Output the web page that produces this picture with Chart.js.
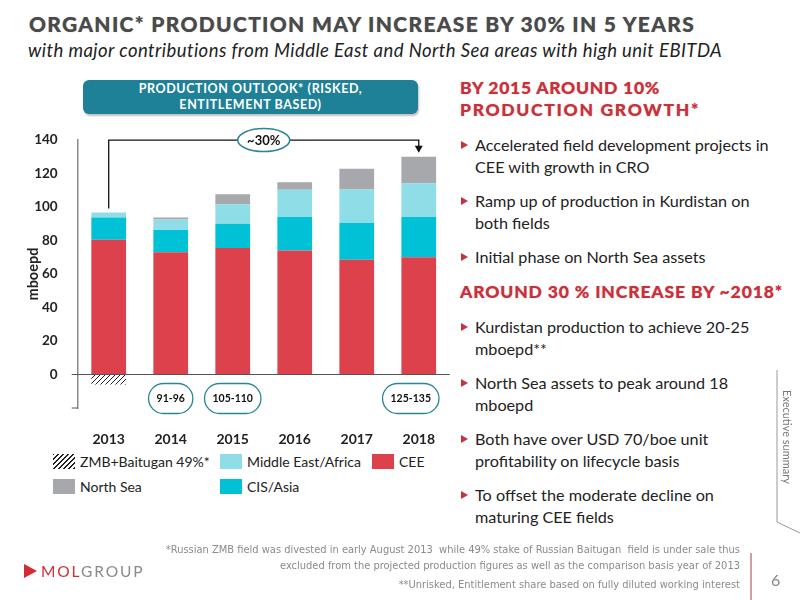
<!DOCTYPE html>
<html>
<head>
<meta charset="utf-8">
<script src="https://cdn.jsdelivr.net/npm/chart.js@4.4.0/dist/chart.umd.min.js"></script>
<style>
body { margin: 0; width: 800px; height: 600px; position: relative; overflow: hidden; background: #fff; font-family: Lato, sans-serif; color: #222; }
.abs { position: absolute; white-space: nowrap; }
#title { left: 29px; top: 11px; font-size: 21px; font-weight: 900; color: #4a4a4a; text-shadow: 0 0 1px #999; }
#subtitle { left: 28px; top: 39px; font-size: 18.5px; font-style: italic; color: #222; }
#box { left: 83px; top: 80px; width: 335px; height: 33px; background: #1f8197; border-radius: 6px; box-shadow: 1px 2px 2px rgba(0,0,0,0.25); color: #fff; font-size: 12.5px; font-weight: 700; letter-spacing: 0.6px; text-align: center; line-height: 15.5px; padding-top: 1px; }
#chartWrap { position: absolute; left: 20px; top: 120px; width: 430px; height: 330px; }
.legItem { position: absolute; font-size: 14px; line-height: 16px; color: #222; }
.legBox { position: absolute; width: 22px; height: 15px; }
.head { position: absolute; left: 460px; font-size: 17.5px; font-weight: 900; color: #c8313b; line-height: 21.5px; white-space: nowrap; text-shadow: 0 0 1px #e88; }
.bul { position: absolute; left: 475px; font-size: 16.2px; line-height: 21.5px; color: #222; white-space: nowrap; }
.bul::before { content: ''; position: absolute; left: -14px; top: 7px; border-left: 7px solid #c8313b; border-top: 4px solid transparent; border-bottom: 4px solid transparent; }
.foot { position: absolute; right: 60px; font-family: "Liberation Sans Narrow", "DejaVu Sans Condensed", sans-serif; font-size: 11px; color: #8a8a8a; white-space: nowrap; }
</style>
</head>
<body>
<div id="title" class="abs" data-fit="666">ORGANIC* PRODUCTION MAY INCREASE BY 30% IN 5 YEARS</div>
<div id="subtitle" class="abs" data-fit="694">with major contributions from Middle East and North Sea areas with high unit EBITDA</div>
<div id="box" class="abs">PRODUCTION OUTLOOK* (RISKED,<br>ENTITLEMENT BASED)</div>

<div id="chartWrap"><canvas id="canvas" width="430" height="330"></canvas></div>
<div id="legend"></div>

<div class="head" style="top:77px" data-fit="200">BY 2015 AROUND 10%</div>
<div class="head" style="top:98.5px" data-fit="240">PRODUCTION GROWTH*</div>
<div class="bul" style="top:134px">Accelerated field development projects in<br>CEE with growth in CRO</div>
<div class="bul" style="top:190px">Ramp up of production in Kurdistan on<br>both fields</div>
<div class="bul" style="top:246px">Initial phase on North Sea assets</div>
<div class="head" style="top:281px" data-fit="323">AROUND 30 % INCREASE BY ~2018*</div>
<div class="bul" style="top:316px">Kurdistan production to achieve 20-25<br>mboepd**</div>
<div class="bul" style="top:372px">North Sea assets to peak around 18<br>mboepd</div>
<div class="bul" style="top:428px">Both have over USD 70/boe unit<br>profitability on lifecycle basis</div>
<div class="bul" style="top:484px">To offset the moderate decline on<br>maturing CEE fields</div>

<svg class="abs" style="left:0;top:0" width="800" height="600">
  <polyline points="777,370 777,522 800,533" fill="none" stroke="#999" stroke-width="1"/>
  <line x1="751" y1="553" x2="751" y2="600" stroke="#c97a7e" stroke-width="1.5"/>
  <polygon points="24,564 37,571 24,578" fill="#d42a35"/>
</svg>
<div class="abs" style="left:787px;top:437px;transform:translate(-50%,-50%) rotate(90deg);font-size:11px;color:#777;">Executive summary</div>
<div class="abs" style="left:771px;top:570px;font-size:16px;color:#888;">6</div>
<div class="abs" style="left:41px;top:562px;font-size:15.5px;letter-spacing:1.9px;"><span style="color:#d42a35">MOL</span><span style="color:#8a8a8a">GROUP</span></div>

<div class="foot" style="top:543px">*Russian ZMB field was divested in early August 2013&nbsp; while 49% stake of Russian Baitugan&nbsp; field is under sale thus</div>
<div class="foot" style="top:559px">excluded from the projected production figures as well as the comparison basis year of 2013</div>
<div class="foot" style="top:578px">**Unrisked, Entitlement share based on fully diluted working interest</div>

<script>
const years = ['2013', '2014', '2015', '2016', '2017', '2018'];
const cee = [80.5, 73, 75.5, 74, 68.5, 70];
const cisAsia = [13.3, 13.3, 14.5, 20, 22, 24];
const middleEastAfrica = [2.9, 6.3, 11.7, 16.3, 20, 20.2];
const northSea = [0, 1.2, 6, 4.5, 12.4, 15.8];
const zmbBaitugan = [-6, 0, 0, 0, 0, 0];
const rangeLabels = ['', '91-96', '105-110', '', '', '125-135'];
const growthLabel = '~30%';

const ceeColor = '#dd424c';
const cisColor = '#00c1d5';
const meColor = '#8fdde6';
const nsColor = '#a7a8ab';
const teal = '#2a8596';

// stretch text lines to the widths measured on the slide
document.querySelectorAll('[data-fit]').forEach(el => {
    const target = parseFloat(el.dataset.fit);
    const n = el.textContent.length;
    const w = el.getBoundingClientRect().width;
    el.style.letterSpacing = ((target - w) / n) + 'px';
});

// hatch for the divested assets
const tile = document.createElement('canvas');
tile.width = 5;
tile.height = 5;
const tctx = tile.getContext('2d');
tctx.fillStyle = '#fff';
tctx.fillRect(0, 0, 5, 5);
tctx.strokeStyle = '#222';
tctx.lineWidth = 1;
tctx.beginPath();
tctx.moveTo(0, 5); tctx.lineTo(5, 0);
tctx.moveTo(-1, 1); tctx.lineTo(1, -1);
tctx.moveTo(4, 6); tctx.lineTo(6, 4);
tctx.stroke();

const ctx = document.getElementById('canvas').getContext('2d');
const hatch = ctx.createPattern(tile, 'repeat');

Chart.defaults.font.family = 'Lato';
Chart.defaults.color = '#222';

const datasets = [
    { label: 'ZMB+Baitugan 49%*', data: zmbBaitugan, backgroundColor: hatch },
    { label: 'CEE', data: cee, backgroundColor: ceeColor },
    { label: 'CIS/Asia', data: cisAsia, backgroundColor: cisColor },
    { label: 'Middle East/Africa', data: middleEastAfrica, backgroundColor: meColor },
    { label: 'North Sea', data: northSea, backgroundColor: nsColor }
];

const config = {
    type: 'bar',
    data: {
        labels: years,
        datasets: datasets.map(d => Object.assign({
            barPercentage: 0.56,
            categoryPercentage: 1,
            borderWidth: 0
        }, d))
    },
    options: {
        responsive: false,
        animation: false,
        layout: { padding: { top: 16.7, right: 0, left: 0, bottom: 0 } },
        plugins: {
            legend: { display: false },
            tooltip: { enabled: false }
        },
        scales: {
            x: {
                stacked: true,
                grid: { display: false },
                border: { display: false },
                ticks: { padding: 15, font: { size: 14, weight: 'bold' }, color: '#222' },
                afterFit: (scale) => { scale.height = 42; }
            },
            y: {
                stacked: true,
                min: -20,
                max: 140,
                grid: { display: false },
                border: { display: true, color: '#8a8a8a', width: 1.5 },
                ticks: {
                    stepSize: 20,
                    padding: 12,
                    font: { size: 13.5, weight: 'bold' },
                    color: '#222',
                    callback: (v) => v < 0 ? '' : v
                },
                title: {
                    display: true,
                    text: 'mboepd',
                    font: { size: 14.5, weight: 'bold' },
                    color: '#222',
                    padding: { top: 5, bottom: 0 }
                },
                afterFit: (scale) => { scale.width = 57.7; }
            }
        }
    },
    plugins: [
        {
            id: 'annotations',
            afterDatasetsDraw: (chart) => {
                const c = chart.ctx;
                const xs = chart.scales.x;
                const ys = chart.scales.y;
                const area = chart.chartArea;
                const y0 = ys.getPixelForValue(0);

                c.save();
                // zero line and bottom stub
                c.strokeStyle = '#555';
                c.lineWidth = 1.2;
                c.beginPath();
                c.moveTo(area.left - 6, y0);
                c.lineTo(area.right, y0);
                c.moveTo(area.left - 6, area.bottom);
                c.lineTo(area.left, area.bottom);
                c.stroke();

                // growth bracket from 2013 to 2018
                const totals = years.map((_, i) => cee[i] + cisAsia[i] + middleEastAfrica[i] + northSea[i]);
                const xa = xs.getPixelForValue(0);
                const xb = xs.getPixelForValue(years.length - 1);
                const yTop = ys.getPixelForValue(140);
                const yA = ys.getPixelForValue(totals[0] + 2.5);
                const yB = ys.getPixelForValue(totals[years.length - 1] + 2.5);
                c.strokeStyle = '#111';
                c.lineWidth = 1.3;
                c.beginPath();
                c.moveTo(xa, yA);
                c.lineTo(xa, yTop);
                c.lineTo(xb, yTop);
                c.lineTo(xb, yB - 6);
                c.stroke();
                c.fillStyle = '#111';
                c.beginPath();
                c.moveTo(xb - 4, yB - 7);
                c.lineTo(xb + 4, yB - 7);
                c.lineTo(xb, yB);
                c.closePath();
                c.fill();

                const xm = (xs.getPixelForValue(2) + xs.getPixelForValue(3)) / 2;
                c.beginPath();
                c.ellipse(xm, yTop, 26, 11.5, 0, 0, 2 * Math.PI);
                c.fillStyle = '#fff';
                c.fill();
                c.strokeStyle = teal;
                c.lineWidth = 1.5;
                c.stroke();
                c.fillStyle = '#111';
                c.font = 'bold 13px Lato';
                c.textAlign = 'center';
                c.textBaseline = 'middle';
                c.fillText(growthLabel, xm, yTop + 0.5);

                // range pills under the axis
                c.font = 'bold 10.5px Lato';
                rangeLabels.forEach((txt, i) => {
                    if (!txt) return;
                    let cx = xs.getPixelForValue(i);
                    if (i === years.length - 1) cx -= 8;
                    const cy = y0 + 24;
                    const w = c.measureText(txt).width + 16;
                    const h = 30;
                    c.beginPath();
                    c.roundRect(cx - w / 2, cy - h / 2, w, h, 15);
                    c.fillStyle = '#fff';
                    c.fill();
                    c.strokeStyle = teal;
                    c.lineWidth = 1.3;
                    c.stroke();
                    c.fillStyle = '#111';
                    c.fillText(txt, cx, cy);
                });
                c.restore();
            }
        }
    ]
};

const chart = new Chart(ctx, config);

// legend built from the datasets
const legendSpots = {
    'ZMB+Baitugan 49%*': [53, 454],
    'Middle East/Africa': [220, 454],
    'CEE': [372, 454],
    'North Sea': [53, 479],
    'CIS/Asia': [220, 479]
};
const legend = document.getElementById('legend');
datasets.forEach(d => {
    const spot = legendSpots[d.label];
    const box = document.createElement('div');
    box.className = 'legBox';
    box.style.left = spot[0] + 'px';
    box.style.top = spot[1] + 'px';
    box.style.background = d.backgroundColor === hatch
        ? 'repeating-linear-gradient(135deg, #222 0 1px, #fff 1px 3.5px)'
        : d.backgroundColor;
    legend.appendChild(box);
    const txt = document.createElement('div');
    txt.className = 'legItem';
    txt.style.left = (spot[0] + 27) + 'px';
    txt.style.top = (spot[1] - 0.5) + 'px';
    txt.textContent = d.label;
    legend.appendChild(txt);
});
</script>
</body>
</html>
